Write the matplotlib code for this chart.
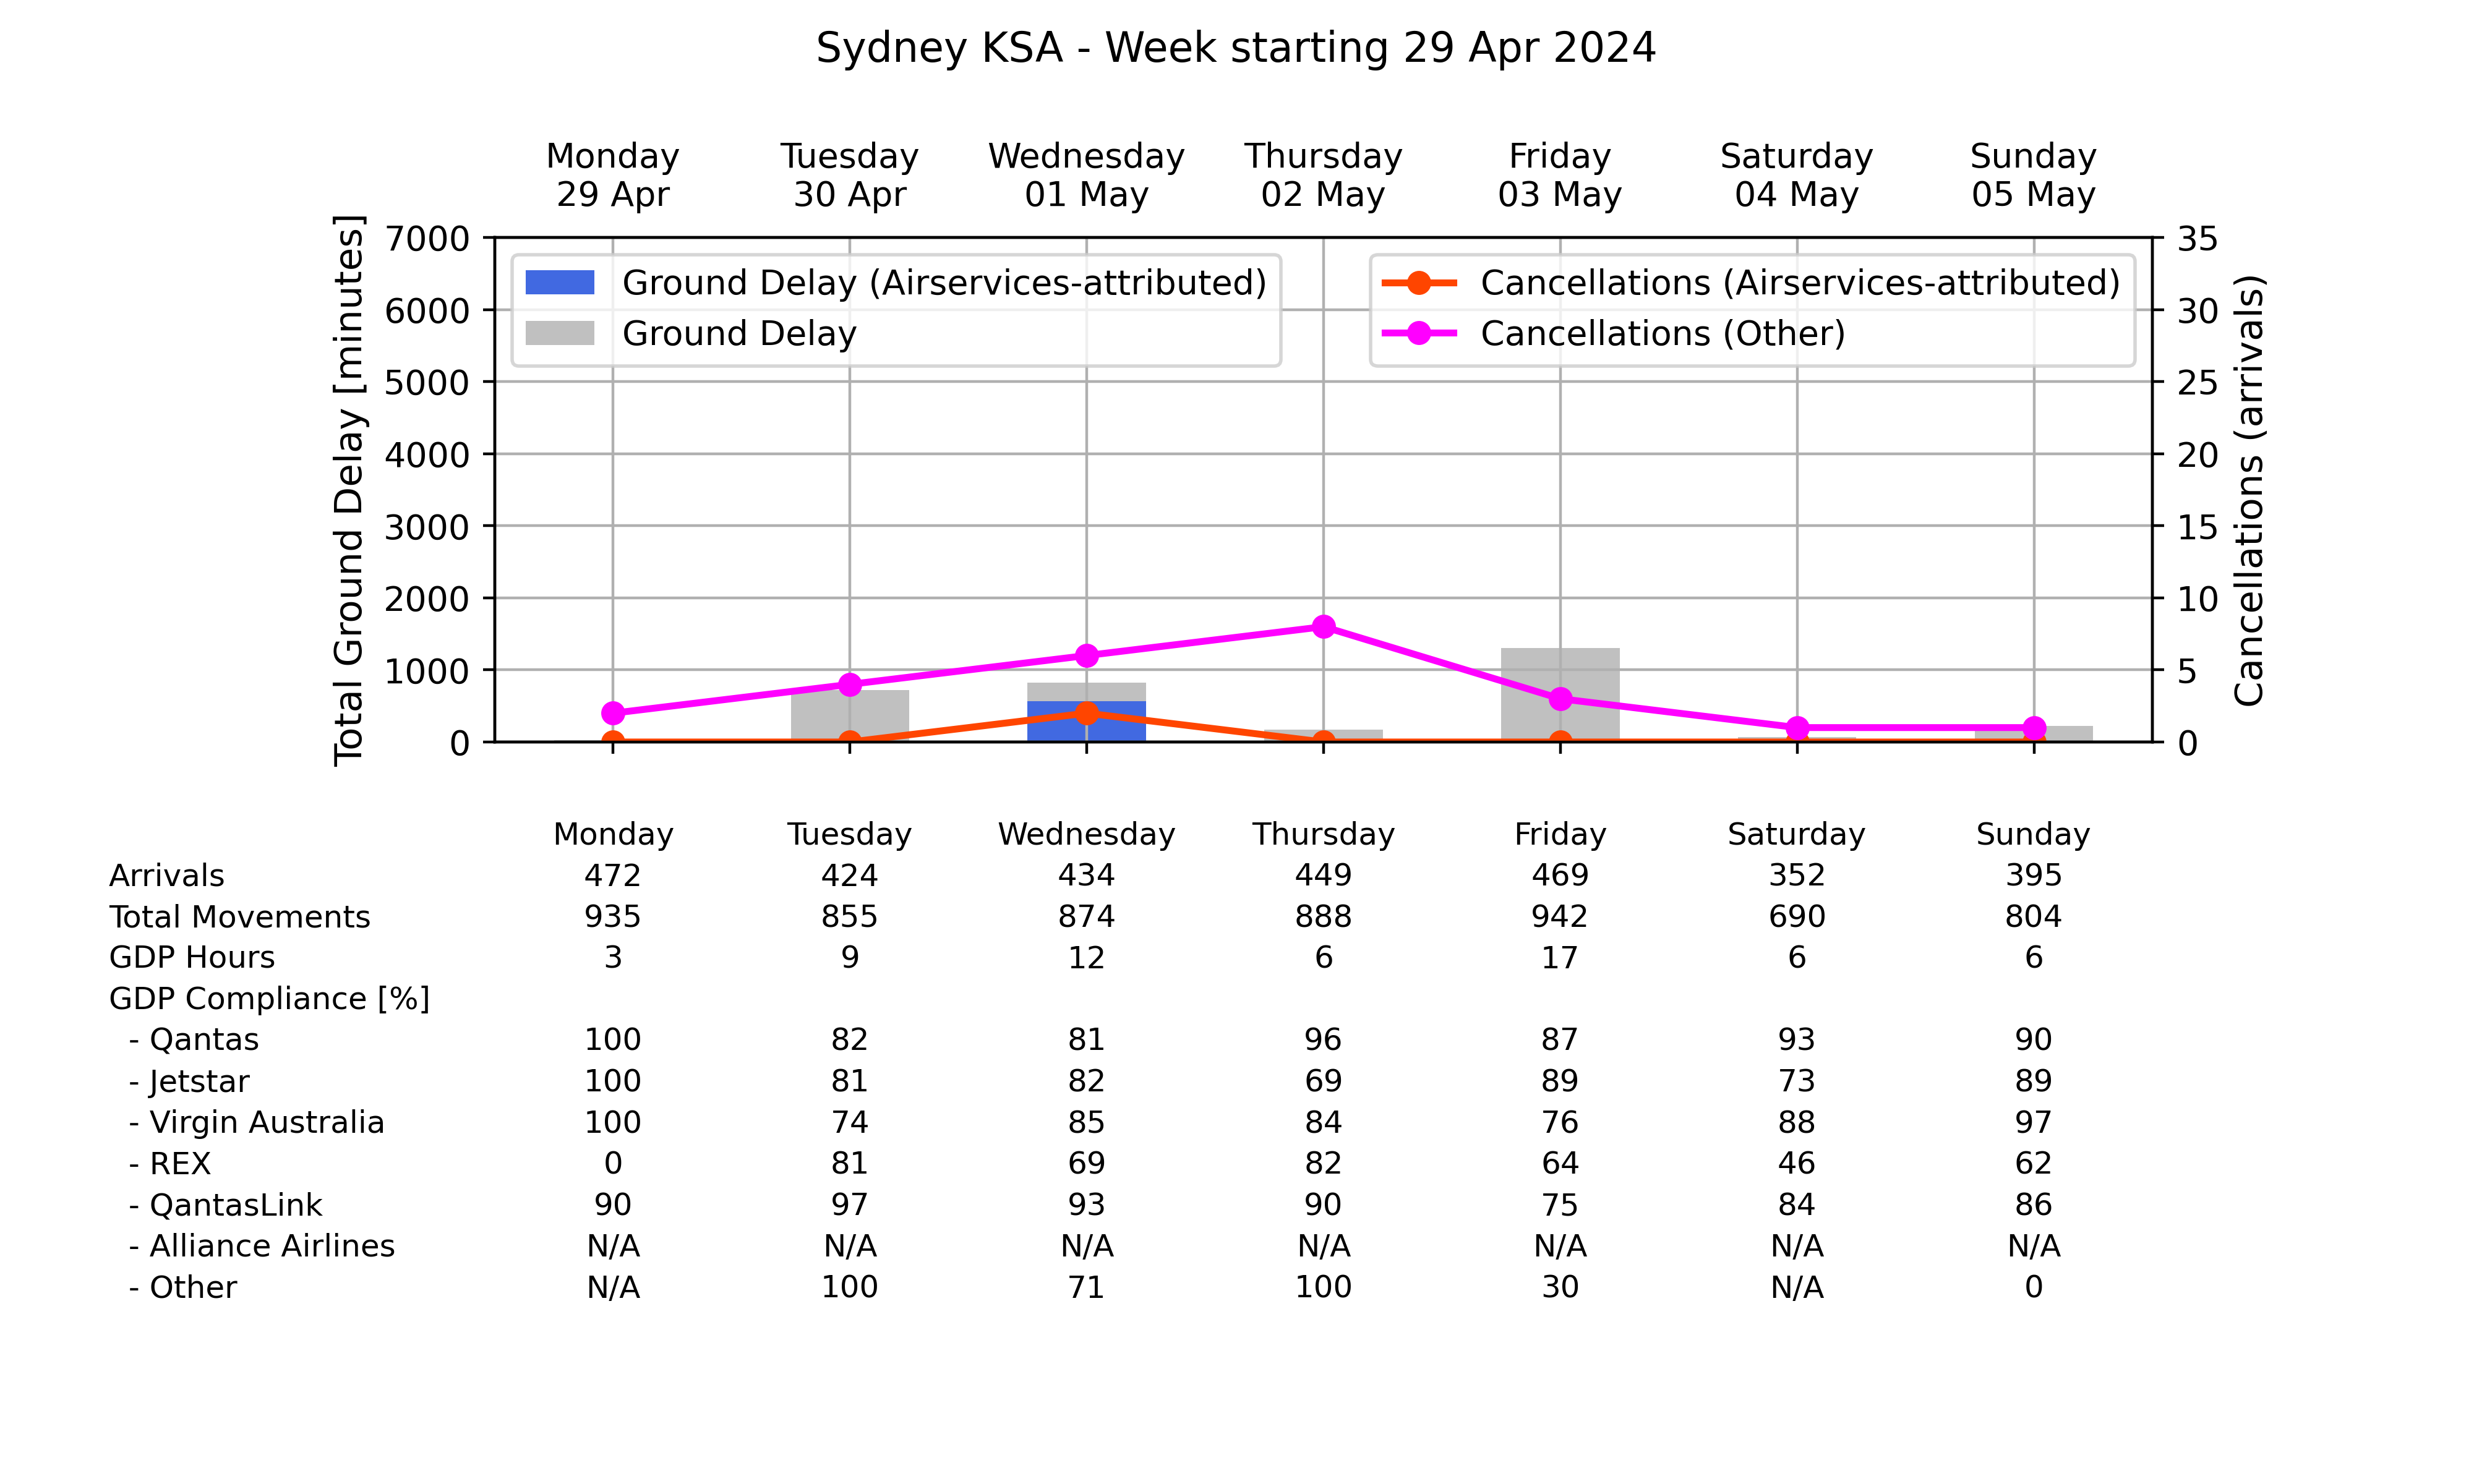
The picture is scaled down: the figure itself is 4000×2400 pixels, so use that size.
import matplotlib
matplotlib.use("Agg")
import matplotlib.pyplot as plt
import matplotlib.transforms as mtransforms

days = ["Monday", "Tuesday", "Wednesday", "Thursday", "Friday", "Saturday", "Sunday"]
dates = ["29 Apr", "30 Apr", "01 May", "02 May", "03 May", "04 May", "05 May"]

ground_delay = [25, 723, 826, 174, 1306, 71, 225]
ground_delay_as = [0, 0, 569, 0, 0, 0, 0]
canc_as = [0, 0, 2, 0, 0, 0, 0]
canc_other = [2, 4, 6, 8, 3, 1, 1]

row_labels = ["Arrivals", "Total Movements", "GDP Hours", "GDP Compliance [%]",
              "  - Qantas", "  - Jetstar", "  - Virgin Australia", "  - REX",
              "  - QantasLink", "  - Alliance Airlines", "  - Other"]
arrivals = ["472", "424", "434", "449", "469", "352", "395"]
movements = ["935", "855", "874", "888", "942", "690", "804"]
gdp_hours = ["3", "9", "12", "6", "17", "6", "6"]
gdp_compliance = [""] * 7
qantas = ["100", "82", "81", "96", "87", "93", "90"]
jetstar = ["100", "81", "82", "69", "89", "73", "89"]
virgin = ["100", "74", "85", "84", "76", "88", "97"]
rex = ["0", "81", "69", "82", "64", "46", "62"]
qantaslink = ["90", "97", "93", "90", "75", "84", "86"]
alliance = ["N/A"] * 7
other = ["N/A", "100", "71", "100", "30", "N/A", "0"]
table_rows = [arrivals, movements, gdp_hours, gdp_compliance, qantas, jetstar,
              virgin, rex, qantaslink, alliance, other]

x = list(range(len(days)))

fig = plt.figure(figsize=(10, 6), dpi=400)
ax = fig.add_axes([0.2, 0.5, 0.67, 0.34])
fig.suptitle("Sydney KSA - Week starting 29 Apr 2024", fontsize=12)

ax.bar(x, ground_delay, width=0.5, color="silver", label="Ground Delay")
ax.bar(x, ground_delay_as, width=0.5, color="royalblue",
       label="Ground Delay (Airservices-attributed)")
ax.set_ylim(0, 7000)
ax.set_xlim(-0.5, 6.5)
ax.set_xticks(x)
ax.set_xticklabels([f"{d}\n{dt}" for d, dt in zip(days, dates)])
ax.tick_params(axis="x", labeltop=True, labelbottom=False, top=False, labelsize=10)
ax.tick_params(axis="y", labelsize=10)
ax.set_ylabel("Total Ground Delay [minutes]", fontsize=11)
ax.grid(True)
h, l = ax.get_legend_handles_labels()
ax.legend(h[::-1], l[::-1], loc="upper left", fontsize=10)

ax2 = ax.twinx()
ax2.plot(x, canc_as, "-o", color="orangered", lw=2,
         label="Cancellations (Airservices-attributed)")
ax2.plot(x, canc_other, "-o", color="magenta", lw=2, label="Cancellations (Other)")
ax2.set_ylim(0, 35)
ax2.set_ylabel("Cancellations (arrivals)", fontsize=11)
ax2.tick_params(axis="y", labelsize=10)
ax2.legend(loc="upper right", fontsize=10)

# summary table below the chart
tr = mtransforms.blended_transform_factory(ax.transData, fig.transFigure)
y0 = 0.4367
step = 0.02775
for i, d in enumerate(days):
    ax.text(i, y0, d, transform=tr, ha="center", va="center", fontsize=9)
for r, (lab, vals) in enumerate(zip(row_labels, table_rows)):
    y = y0 - step * (r + 1)
    fig.text(0.044, y, lab, ha="left", va="center", fontsize=9)
    for i, v in enumerate(vals):
        ax.text(i, y, v, transform=tr, ha="center", va="center", fontsize=9)

fig.savefig("out.png", dpi=400)
